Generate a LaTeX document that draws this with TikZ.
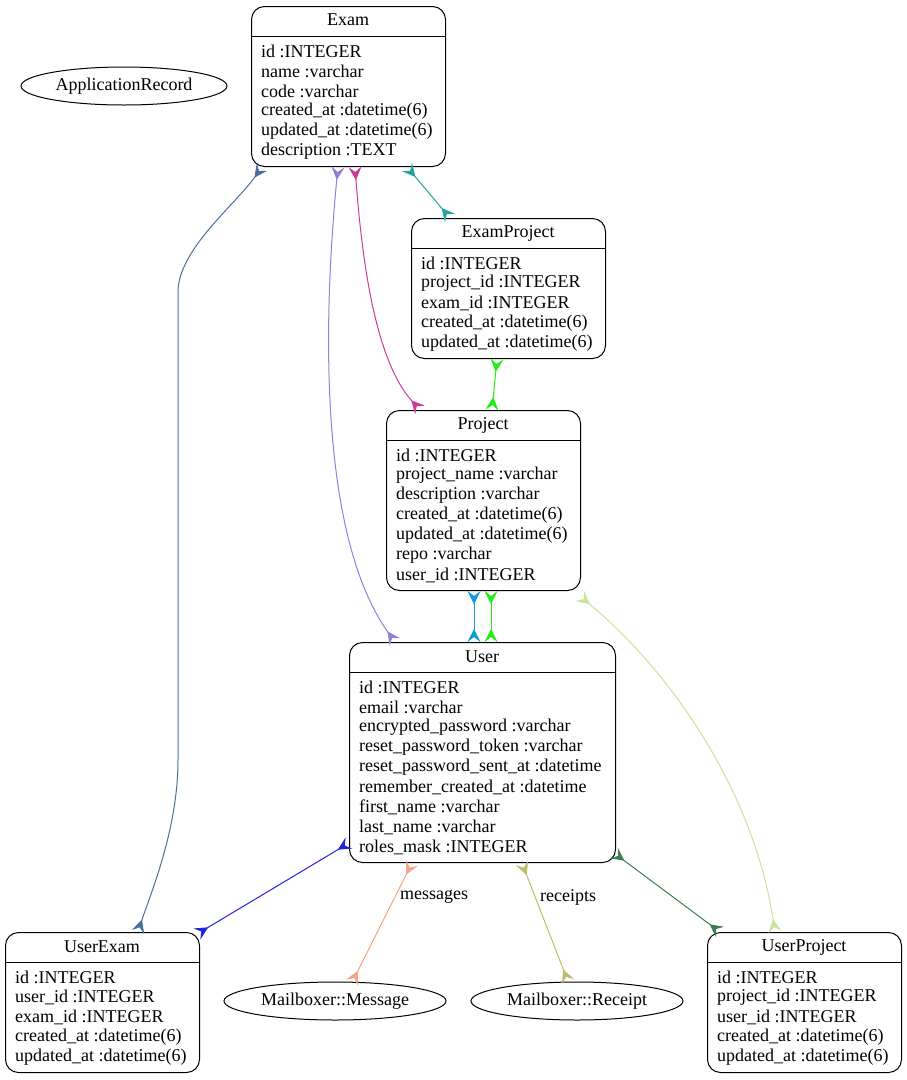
\documentclass[tikz,border=0pt]{standalone}
\usepackage{fontspec}
\setmainfont{Liberation Serif}
\usetikzlibrary{shapes.geometric,arrows.meta}
\definecolor{cSteel}{HTML}{48709E}
\definecolor{cLav}{HTML}{8E80DC}
\definecolor{cMag}{HTML}{CC3A96}
\definecolor{cTeal}{HTML}{22A39A}
\definecolor{cGreen}{HTML}{22EE11}
\definecolor{cCyan}{HTML}{1199D8}
\definecolor{cLight}{HTML}{C8E49A}
\definecolor{cBlue}{HTML}{2424DD}
\definecolor{cSalmon}{HTML}{F4A488}
\definecolor{cKhaki}{HTML}{BCBC6C}
\definecolor{cDark}{HTML}{3E7E50}
\tikzset{
  entity/.style={draw=black, line width=1pt, rounded corners=13pt, anchor=north west, inner sep=0pt, minimum width=194pt},
  title/.style={anchor=center, inner sep=0pt, font=\fontsize{18pt}{20pt}\selectfont},
  field/.style={anchor=west, inner sep=0pt, font=\fontsize{18pt}{20pt}\selectfont},
  oval/.style={draw=black, line width=1pt, ellipse, inner sep=0pt, minimum height=38pt, font=\fontsize{18pt}{20pt}\selectfont},
  elabel/.style={anchor=west, inner sep=0pt, font=\fontsize{18pt}{20pt}\selectfont},
  crow/.tip={Stealth[reversed, length=13pt, width=13pt, inset=5pt]},
  rel/.style={line width=1pt, crow-crow},
}
\begin{document}
\begin{tikzpicture}[x=1pt,y=-1pt]
\useasboundingbox (0,0) rectangle (907,1080);
% ApplicationRecord
\node[oval, minimum width=206pt] (ar) at (124,86) {ApplicationRecord};
% Exam
\node[entity, minimum height=160pt] (exam) at (251,6) {};
\draw[line width=1pt] ([yshift=-30pt]exam.north west) -- ([yshift=-30pt]exam.north east);
\node[title] (examT) at (348,20) {Exam};
\node[field] (exam1) at (261,51) {id :INTEGER};
\node[field] (exam2) at (261,71) {name :varchar};
\node[field] (exam3) at (261,91) {code :varchar};
\node[field] (exam4) at (261,111) {created\_at :datetime(6)};
\node[field] (exam5) at (261,131) {updated\_at :datetime(6)};
\node[field] (exam6) at (261,151) {description :TEXT};
% ExamProject
\node[entity, minimum height=140pt] (ep) at (411,218) {};
\draw[line width=1pt] ([yshift=-30pt]ep.north west) -- ([yshift=-30pt]ep.north east);
\node[title] (epT) at (508,233) {ExamProject};
\node[field] (ep1) at (421,263) {id :INTEGER};
\node[field] (ep2) at (421,283) {project\_id :INTEGER};
\node[field] (ep3) at (421,303) {exam\_id :INTEGER};
\node[field] (ep4) at (421,323) {created\_at :datetime(6)};
\node[field] (ep5) at (421,343) {updated\_at :datetime(6)};
% Project
\node[entity, minimum height=180pt] (pr) at (386,410) {};
\draw[line width=1pt] ([yshift=-30pt]pr.north west) -- ([yshift=-30pt]pr.north east);
\node[title] (prT) at (483,425) {Project};
\node[field] (pr1) at (396,455) {id :INTEGER};
\node[field] (pr2) at (396,475) {project\_name :varchar};
\node[field] (pr3) at (396,495) {description :varchar};
\node[field] (pr4) at (396,515) {created\_at :datetime(6)};
\node[field] (pr5) at (396,535) {updated\_at :datetime(6)};
\node[field] (pr6) at (396,555) {repo :varchar};
\node[field] (pr7) at (396,575) {user\_id :INTEGER};
% User
\node[entity, minimum width=266pt, minimum height=220pt] (us) at (349,642) {};
\draw[line width=1pt] ([yshift=-30pt]us.north west) -- ([yshift=-30pt]us.north east);
\node[title] (usT) at (482,657) {User};
\node[field] (us1) at (359,687) {id :INTEGER};
\node[field] (us2) at (359,707) {email :varchar};
\node[field] (us3) at (359,727) {encrypted\_password :varchar};
\node[field] (us4) at (359,747) {reset\_password\_token :varchar};
\node[field] (us5) at (359,767) {reset\_password\_sent\_at :datetime};
\node[field] (us6) at (359,787) {remember\_created\_at :datetime};
\node[field] (us7) at (359,807) {first\_name :varchar};
\node[field] (us8) at (359,827) {last\_name :varchar};
\node[field] (us9) at (359,847) {roles\_mask :INTEGER};
% UserExam
\node[entity, minimum height=140pt] (ue) at (5,932) {};
\draw[line width=1pt] ([yshift=-30pt]ue.north west) -- ([yshift=-30pt]ue.north east);
\node[title] (ueT) at (102,947) {UserExam};
\node[field] (ue1) at (15,977) {id :INTEGER};
\node[field] (ue2) at (15,997) {user\_id :INTEGER};
\node[field] (ue3) at (15,1017) {exam\_id :INTEGER};
\node[field] (ue4) at (15,1037) {created\_at :datetime(6)};
\node[field] (ue5) at (15,1057) {updated\_at :datetime(6)};
% UserProject
\node[entity, minimum height=140pt] (up) at (707,932) {};
\draw[line width=1pt] ([yshift=-30pt]up.north west) -- ([yshift=-30pt]up.north east);
\node[title] (upT) at (804,947) {UserProject};
\node[field] (up1) at (717,977) {id :INTEGER};
\node[field] (up2) at (717,997) {project\_id :INTEGER};
\node[field] (up3) at (717,1017) {user\_id :INTEGER};
\node[field] (up4) at (717,1037) {created\_at :datetime(6)};
\node[field] (up5) at (717,1057) {updated\_at :datetime(6)};
% Mailboxer ellipses
\node[oval, minimum width=222pt] (msg) at (335,1001) {Mailboxer::Message};
\node[oval, minimum width=212pt] (rcp) at (577,1001) {Mailboxer::Receipt};
% Edges
\draw[rel, cSteel] ([xshift=11pt]exam.south west) .. controls (235,205) and (178,250) .. (178,292) -- (178,760) .. controls (178,830) and (150,895) .. ([xshift=133pt]ue.north west);
\draw[rel, cLav] ([xshift=87pt]exam.south west) .. controls (325,300) and (315,530) .. ([xshift=46pt]us.north west);
\draw[rel, cMag] ([xshift=104pt]exam.south west) .. controls (362,260) and (375,360) .. ([xshift=34pt]pr.north west);
\draw[rel, cTeal] ([xshift=156pt]exam.south west) -- ([xshift=39pt]ep.north west);
\draw[rel, cGreen] ([xshift=86pt]ep.south west) -- ([xshift=106pt]pr.north west);
\draw[rel, cCyan] ([xshift=88pt]pr.south west) -- ([xshift=125pt]us.north west);
\draw[rel, cGreen] ([xshift=105pt]pr.south west) -- ([xshift=142pt]us.north west);
\draw[rel, cLight] ([xshift=-1pt,yshift=-5pt]pr.south east) .. controls (680,680) and (755,800) .. ([xshift=68pt]up.north west);
\draw[rel, cBlue] ([yshift=20pt]us.south west) -- ([xshift=-3pt,yshift=-2pt]ue.north east);
\draw[rel, cSalmon] ([xshift=63pt]us.south west) -- ([xshift=17pt,yshift=-1pt]msg.north);
\draw[rel, cKhaki] ([xshift=173pt]us.south west) -- ([xshift=-9pt]rcp.north);
\draw[rel, cDark] ([xshift=-2pt,yshift=10pt]us.south east) -- ([xshift=13pt]up.north west);
\node[elabel] (lmsg) at (400,897) {messages};
\node[elabel] (lrcp) at (540,897) {receipts};
\end{tikzpicture}
\end{document}
